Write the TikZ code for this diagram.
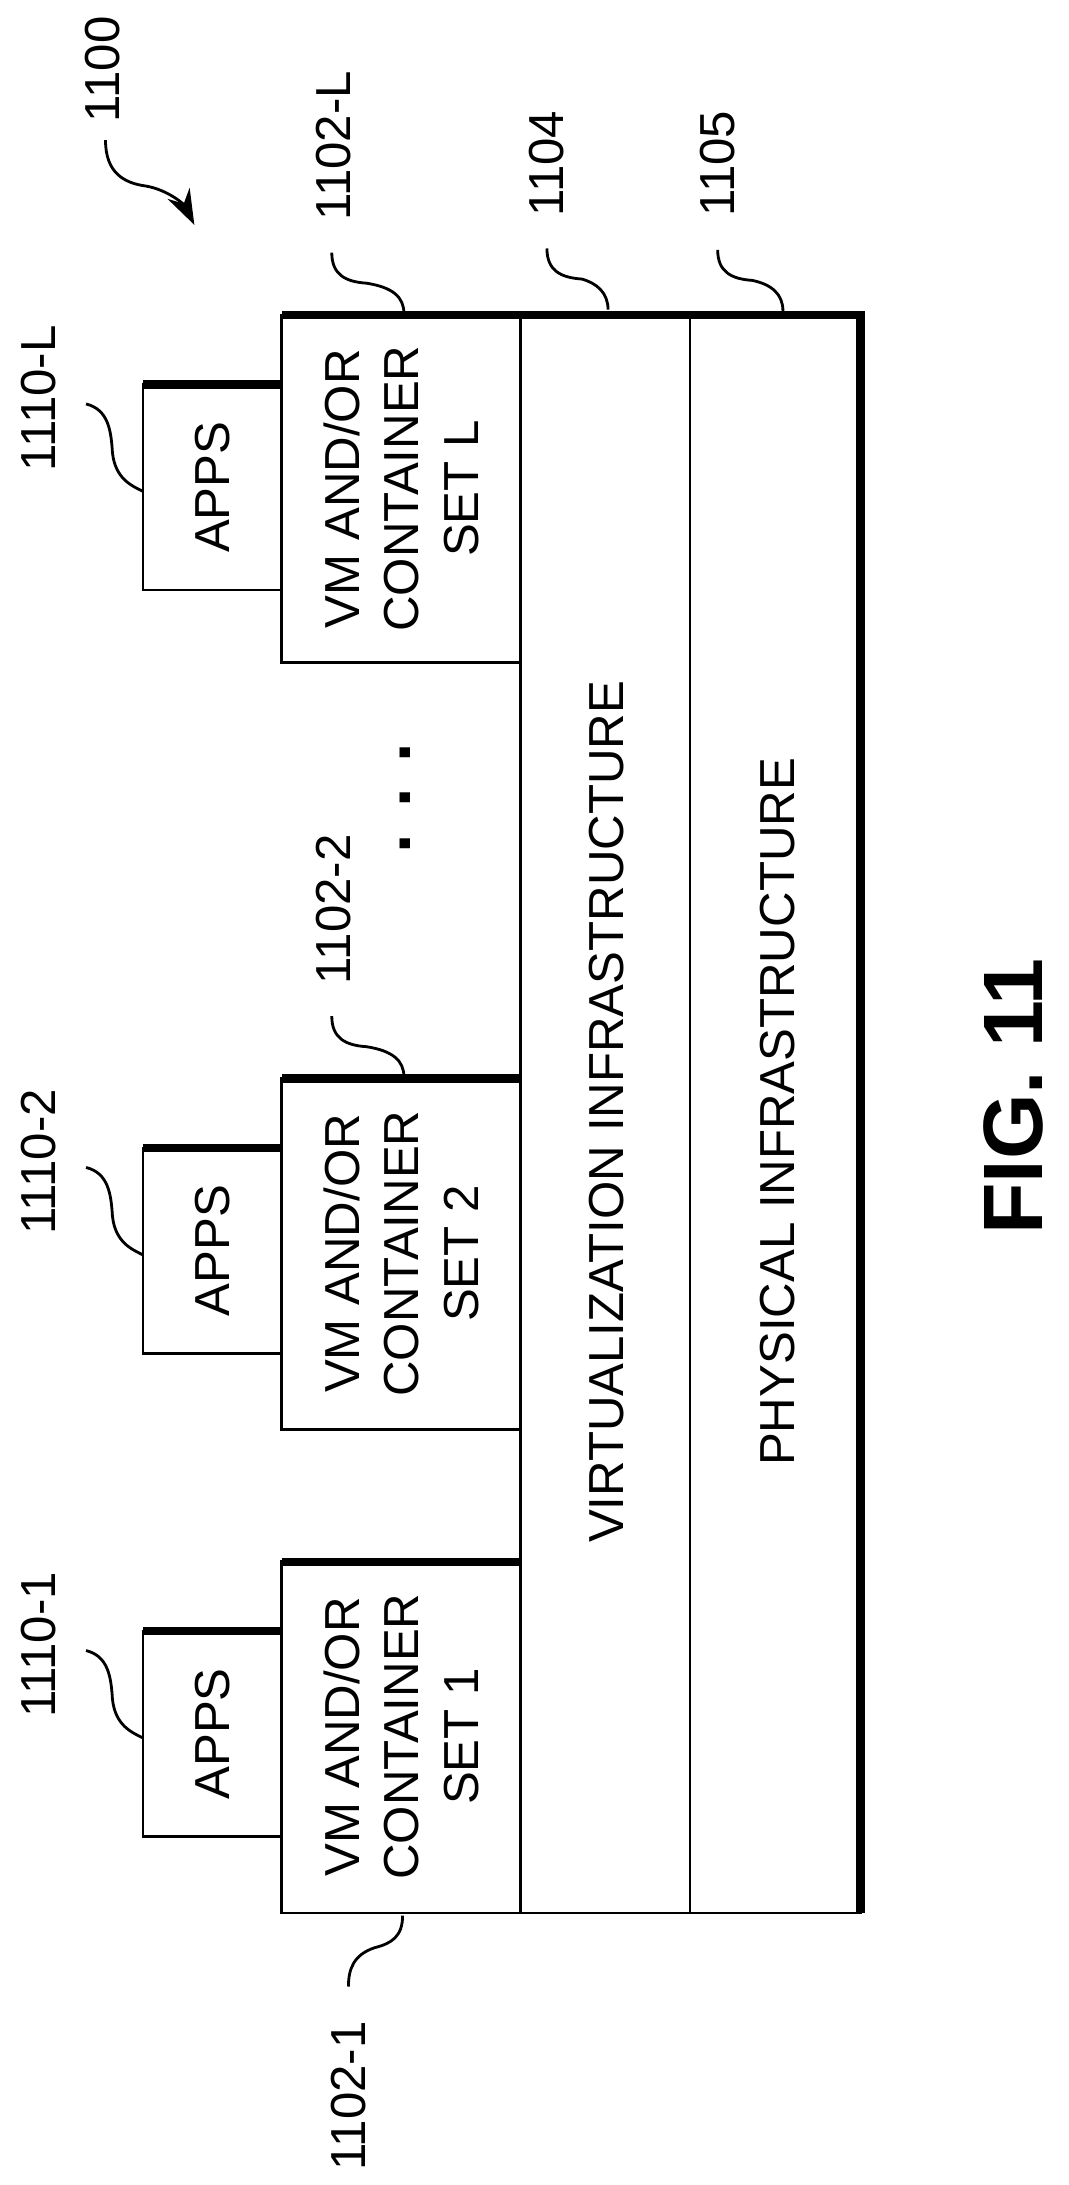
\documentclass[tikz,border=0pt]{standalone}
\usepackage{fontspec}
\setmainfont{Liberation Sans}
\usetikzlibrary{arrows.meta}
\tikzset{
  box/.style={draw,line width=0.8pt},
  shade/.style={line width=2.4pt},
  txt/.style={rotate=90,align=center,font=\fontsize{14}{17}\selectfont},
  lbl/.style={rotate=90,font=\fontsize{14}{16}\selectfont},
  lead/.style={line width=0.8pt}
}
\begin{document}
\begin{tikzpicture}[x=0.01388cm,y=-0.01388cm]
\useasboundingbox (0,0) rectangle (770,1574);

% Layers
\draw[box] (497,227) rectangle (620,1378);
\draw[box] (375,227) rectangle (497,1378);
\draw[shade] (203,227) -- (620,227) -- (620,1378);
\node[txt] (phys) at (560,801) {PHYSICAL INFRASTRUCTURE};
\node[txt] (virt) at (437,801) {VIRTUALIZATION INFRASTRUCTURE};

% VM sets and apps
\draw[box] (203,227) rectangle (375,477);
\draw[box] (203,777) rectangle (375,1030);
\draw[box] (203,1125) rectangle (375,1378);
\draw[shade] (203,777) -- (375,777);
\draw[shade] (203,1125) -- (375,1125);
\node[txt] (vmL) at (289,352) {VM AND/OR\\CONTAINER\\SET L};
\node[txt] (vm2) at (289,903) {VM AND/OR\\CONTAINER\\SET 2};
\node[txt] (vm1) at (289,1251) {VM AND/OR\\CONTAINER\\SET 1};
\foreach \y/\n in {277/L,827/2,1175/1}{
  \draw[box] (103,\y) rectangle (203,\y+148);
  \draw[shade] (103,\y) -- (203,\y);
  \node[txt] (apps\n) at (153,\y+74) {APPS};
}
\node[rotate=90,font=\fontsize{20}{20}\selectfont\bfseries] (dots) at (292,575) {. . .};

% Reference labels
\node[lbl] (l1100) at (74,50) {1100};
\node[lbl] (l1102L) at (240,105) {1102-L};
\node[lbl] (l1104) at (394,118) {1104};
\node[lbl] (l1105) at (517,118) {1105};
\node[lbl] (l1110L) at (28,287) {1110-L};
\node[lbl] (l1102b) at (240,655) {1102-2};
\node[lbl] (l1110b) at (28,837) {1110-2};
\node[lbl] (l1110a) at (28,1185) {1110-1};
\node[lbl] (l1102a) at (251,1510) {1102-1};
\node[rotate=90,font=\fontsize{24}{24}\selectfont\bfseries] (fig) at (730,790) {FIG. 11};

% Leaders
\foreach \x/\y/\e in {239/182/291, 394/179/438, 517/180/564, 239/732/291}
  \draw[lead] (\x,\y) .. controls (\x,\y+16) and (\x+10,\y+21) .. (\x+25,\y+22)
    .. controls (\e-8,\y+25) and (\e,\y+32) .. (\e,\y+44);
\foreach \y in {277,827,1175}
  \draw[lead] (62,\y+14) .. controls (78,\y+18) and (80,\y+33) .. (81,\y+49)
    .. controls (83,\y+68) and (95,\y+73) .. (103,\y+77);
\draw[lead] (290,1380) .. controls (290,1395) and (282,1400) .. (270,1403)
  .. controls (255,1408) and (251,1418) .. (251,1431);
\draw[lead,-{Stealth[length=10pt,width=7pt]}] (76,101) .. controls (76,125) and (90,132) .. (105,134)
  .. controls (122,137) and (133,148) .. (140,162);
\end{tikzpicture}
\end{document}
